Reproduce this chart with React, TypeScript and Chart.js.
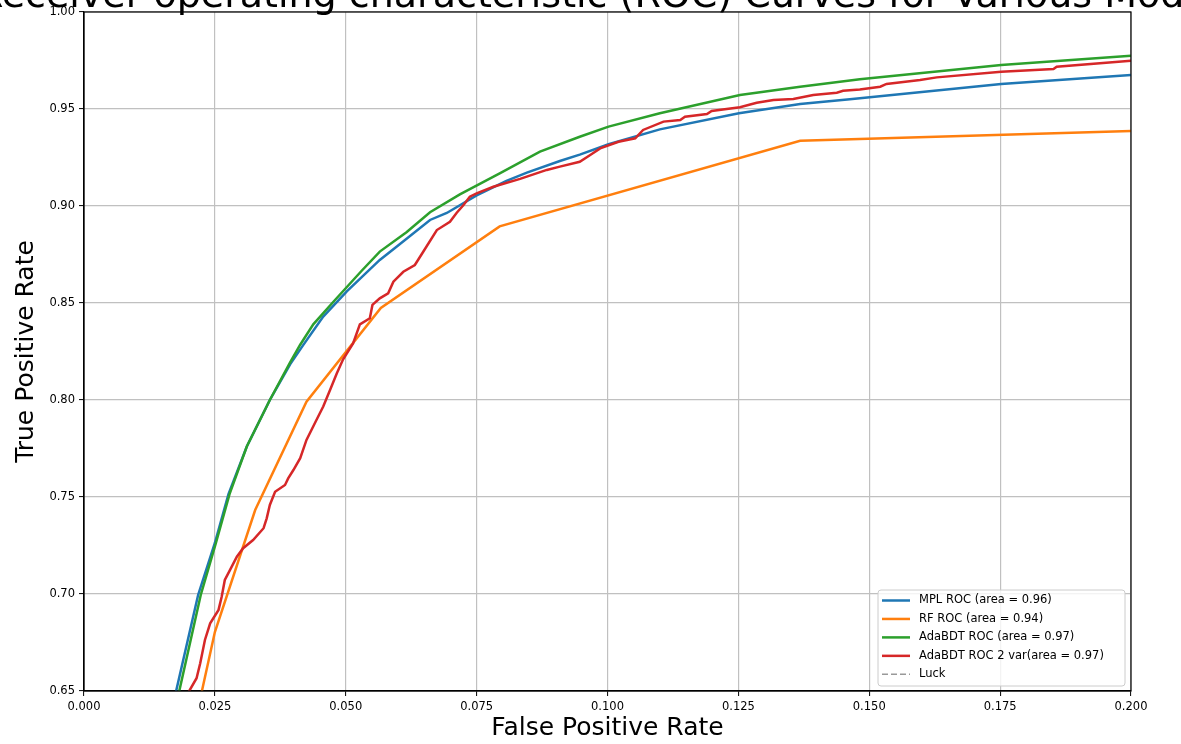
import React, { useEffect, useRef } from 'react';
import { Chart, registerables } from 'chart.js';

Chart.register(...registerables);

const titleText = 'Receiver operating characteristic (ROC) Curves for Various Models';
const xAxisTitle = 'False Positive Rate';
const yAxisTitle = 'True Positive Rate';

const xMin = 0.0;
const xMax = 0.2;
const xStep = 0.025;
const yMin = 0.65;
const yMax = 1.0;
const yStep = 0.05;

const seriesLabels = [
  'MPL ROC (area = 0.96)',
  'RF ROC (area = 0.94)',
  'AdaBDT ROC (area = 0.97)',
  'AdaBDT ROC 2 var(area = 0.97)',
  'Luck',
];
const seriesColors = ['#1f77b4', '#ff7f0e', '#2ca02c', '#d62728', '#999999'];

const mplFpr = [0.0, 0.017, 0.0176, 0.0218, 0.025, 0.0276, 0.0311, 0.0355, 0.0394, 0.0419, 0.0457, 0.0502, 0.0565, 0.0597, 0.0661, 0.0693, 0.075, 0.0807, 0.0846, 0.0909, 0.0947, 0.1002, 0.11, 0.1251, 0.1368, 0.1463, 0.1482, 0.1752, 0.2];
const mplTpr = [0.0, 0.635, 0.65, 0.6995, 0.7263, 0.7515, 0.776, 0.8, 0.8185, 0.8284, 0.843, 0.856, 0.8722, 0.879, 0.8928, 0.8964, 0.9055, 0.913, 0.9172, 0.9232, 0.9265, 0.9318, 0.9395, 0.9478, 0.9526, 0.955, 0.9555, 0.9629, 0.9675];

const rfFpr = [0.0, 0.02, 0.025, 0.0327, 0.0425, 0.0567, 0.0794, 0.1368, 0.2];
const rfTpr = [0.0, 0.619, 0.6804, 0.7433, 0.7991, 0.8474, 0.8895, 0.9336, 0.9387];

const adaFpr = [0.0, 0.0175, 0.0182, 0.0223, 0.0252, 0.0278, 0.0311, 0.0355, 0.0394, 0.0413, 0.0438, 0.0476, 0.053, 0.0565, 0.0616, 0.0661, 0.0718, 0.0795, 0.0871, 0.0947, 0.1002, 0.11, 0.1253, 0.1368, 0.1482, 0.1752, 0.2];
const adaTpr = [0.0, 0.63, 0.65, 0.6995, 0.7263, 0.7515, 0.776, 0.8, 0.8195, 0.8285, 0.839, 0.8505, 0.8665, 0.8765, 0.8865, 0.8968, 0.906, 0.9169, 0.928, 0.9357, 0.9409, 0.9478, 0.9572, 0.9615, 0.9653, 0.9727, 0.9775];

const ada2Fpr = [0.0, 0.0195, 0.0201, 0.0215, 0.0222, 0.0231, 0.0241, 0.0257, 0.0263, 0.0269, 0.0279, 0.0292, 0.0304, 0.0323, 0.0343, 0.0349, 0.0355, 0.0365, 0.0384, 0.039, 0.04, 0.0413, 0.0425, 0.0444, 0.0457, 0.047, 0.0483, 0.0495, 0.0514, 0.0527, 0.0546, 0.0551, 0.0565, 0.0581, 0.0591, 0.061, 0.0632, 0.0648, 0.0674, 0.0699, 0.0712, 0.0725, 0.0737, 0.075, 0.0782, 0.0833, 0.0884, 0.0909, 0.0947, 0.0967, 0.0986, 0.1021, 0.1053, 0.1068, 0.1107, 0.1139, 0.1148, 0.119, 0.1199, 0.1253, 0.1285, 0.1317, 0.1355, 0.1393, 0.1438, 0.145, 0.1482, 0.1521, 0.1533, 0.1597, 0.1629, 0.1752, 0.1852, 0.1858, 0.2];
const ada2Tpr = [0.0, 0.64, 0.65, 0.6566, 0.6643, 0.6763, 0.6849, 0.6918, 0.6986, 0.7072, 0.7124, 0.7192, 0.7236, 0.7278, 0.7339, 0.739, 0.7459, 0.7527, 0.7562, 0.7596, 0.7639, 0.77, 0.7794, 0.7897, 0.7966, 0.8052, 0.8138, 0.821, 0.8292, 0.839, 0.8421, 0.849, 0.8524, 0.855, 0.861, 0.8661, 0.8696, 0.8764, 0.8876, 0.8919, 0.8965, 0.9005, 0.9048, 0.9065, 0.9099, 0.914, 0.9186, 0.9203, 0.9228, 0.9263, 0.9297, 0.9331, 0.9349, 0.9392, 0.9435, 0.9443, 0.946, 0.9474, 0.949, 0.9509, 0.9532, 0.9546, 0.9552, 0.9572, 0.9584, 0.9594, 0.9601, 0.9615, 0.9629, 0.9649, 0.9663, 0.9692, 0.9706, 0.9718, 0.9749];

const luckFpr = [0.0, 1.0];
const luckTpr = [0.0, 1.0];

const FONT = "'DejaVu Sans', sans-serif";

const toPoints = (xs: number[], ys: number[]) => xs.map((x, i) => ({ x, y: ys[i] }));

const framePlugin = {
  id: 'frame',
  afterDatasetsDraw(chart: any) {
    const { ctx, chartArea: a } = chart;
    ctx.save();
    ctx.strokeStyle = '#000';
    ctx.lineWidth = 1.2;
    ctx.strokeRect(a.left, a.top, a.right - a.left, a.bottom - a.top);
    ctx.restore();
  },
};

const titlePlugin = {
  id: 'clippedTitle',
  afterDraw(chart: any) {
    const { ctx, chartArea: a } = chart;
    ctx.save();
    ctx.fillStyle = '#000';
    ctx.font = `38px ${FONT}`;
    ctx.textAlign = 'center';
    ctx.textBaseline = 'alphabetic';
    ctx.fillText(titleText, (a.left + a.right) / 2, 7);
    ctx.restore();
  },
};

const legendPlugin = {
  id: 'innerLegend',
  afterDraw(chart: any) {
    const { ctx, chartArea: a } = chart;
    const w = 247;
    const h = 96;
    const x0 = a.right - 6 - w;
    const y0 = a.bottom - 5 - h;
    ctx.save();
    ctx.beginPath();
    const r = 3;
    ctx.moveTo(x0 + r, y0);
    ctx.arcTo(x0 + w, y0, x0 + w, y0 + h, r);
    ctx.arcTo(x0 + w, y0 + h, x0, y0 + h, r);
    ctx.arcTo(x0, y0 + h, x0, y0, r);
    ctx.arcTo(x0, y0, x0 + w, y0, r);
    ctx.closePath();
    ctx.fillStyle = 'rgba(255,255,255,0.8)';
    ctx.fill();
    ctx.strokeStyle = '#cccccc';
    ctx.lineWidth = 1;
    ctx.stroke();
    ctx.font = `11.5px ${FONT}`;
    ctx.textBaseline = 'middle';
    ctx.textAlign = 'left';
    chart.data.datasets.forEach((ds: any, i: number) => {
      const yy = y0 + 10.5 + i * 18.45;
      ctx.beginPath();
      ctx.strokeStyle = ds.borderColor;
      ctx.lineWidth = ds.borderWidth;
      ctx.setLineDash(ds.borderDash || []);
      ctx.moveTo(x0 + 4, yy);
      ctx.lineTo(x0 + 32, yy);
      ctx.stroke();
      ctx.setLineDash([]);
      ctx.fillStyle = '#000';
      ctx.fillText(ds.label, x0 + 41, yy);
    });
    ctx.restore();
  },
};

export default function App() {
  const canvasRef = useRef<HTMLCanvasElement | null>(null);

  useEffect(() => {
    document.body.style.margin = '0';
    const canvas = canvasRef.current;
    if (!canvas) return;
    const series = [
      { fpr: mplFpr, tpr: mplTpr, order: 4, dash: undefined },
      { fpr: rfFpr, tpr: rfTpr, order: 3, dash: undefined },
      { fpr: adaFpr, tpr: adaTpr, order: 2, dash: undefined },
      { fpr: ada2Fpr, tpr: ada2Tpr, order: 1, dash: undefined },
      { fpr: luckFpr, tpr: luckTpr, order: 0, dash: [6, 3] },
    ];
    const chart = new Chart(canvas, {
      type: 'line',
      data: {
        datasets: series.map((s, i) => ({
          label: seriesLabels[i],
          data: toPoints(s.fpr, s.tpr),
          borderColor: seriesColors[i],
          backgroundColor: seriesColors[i],
          borderWidth: i === 4 ? 1.5 : 2.5,
          borderDash: s.dash,
          pointRadius: 0,
          pointHoverRadius: 0,
          tension: 0,
          fill: false,
          clip: 0,
          order: s.order,
        })),
      },
      options: {
        responsive: false,
        maintainAspectRatio: false,
        animation: false,
        devicePixelRatio: 1,
        events: [],
        layout: { padding: { top: 12, right: 50, left: 0, bottom: 0 } },
        plugins: {
          legend: { display: false },
          title: { display: false },
          tooltip: { enabled: false },
        },
        scales: {
          x: {
            type: 'linear',
            min: xMin,
            max: xMax,
            afterFit: (s: any) => {
              s.height = 53;
            },
            ticks: {
              stepSize: xStep,
              autoSkip: false,
              maxRotation: 0,
              padding: 4,
              color: '#000',
              font: { family: FONT, size: 11.5 },
              callback: (v: any) => Number(v).toFixed(3),
            },
            grid: {
              color: '#c0c0c0',
              lineWidth: 1.2,
              tickColor: '#000',
              tickLength: 5,
              tickWidth: 1,
            },
            border: { display: true, color: '#000', width: 1.2 },
            title: {
              display: true,
              text: xAxisTitle,
              color: '#000',
              font: { family: FONT, size: 25 },
              padding: { top: 0, bottom: 1 },
            },
          },
          y: {
            type: 'linear',
            min: yMin,
            max: yMax,
            afterFit: (s: any) => {
              s.width = 84;
            },
            ticks: {
              stepSize: yStep,
              autoSkip: false,
              padding: 4,
              color: '#000',
              font: { family: FONT, size: 11.5 },
              callback: (v: any) => Number(v).toFixed(2),
            },
            grid: {
              color: '#c0c0c0',
              lineWidth: 1.2,
              tickColor: '#000',
              tickLength: 5,
              tickWidth: 1,
            },
            border: { display: true, color: '#000', width: 1.2 },
            title: {
              display: true,
              text: yAxisTitle,
              color: '#000',
              font: { family: FONT, size: 25 },
              padding: { top: 11, bottom: 0 },
            },
          },
        },
      },
      plugins: [framePlugin, titlePlugin, legendPlugin],
    } as any);
    return () => chart.destroy();
  }, []);

  return (
    <div style={{ width: 1181, height: 744, overflow: 'hidden', background: '#fff' }}>
      <canvas ref={canvasRef} width={1181} height={744} style={{ display: 'block' }} />
    </div>
  );
}
